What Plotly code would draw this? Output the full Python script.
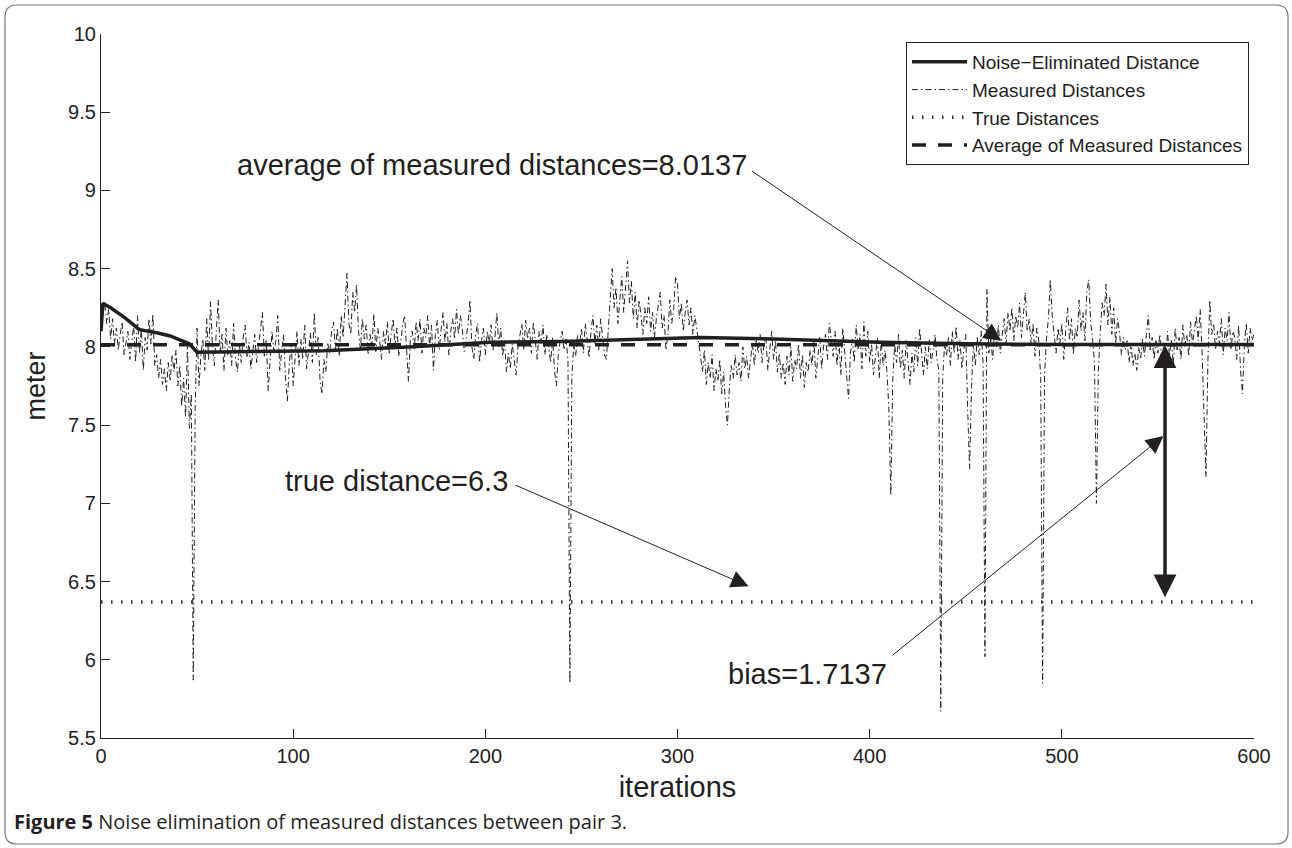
import plotly.graph_objects as go

# ---------------- data ----------------
measured_0_49 = [8.10, 8.22, 8.27, 8.15, 8.24, 8.05, 8.18, 8.02, 8.12, 7.98,
                 8.08, 8.16, 7.95, 8.04, 8.10, 7.92, 8.02, 8.14, 7.90, 8.20,
                 7.96, 8.12, 7.85, 8.06, 7.98, 8.18, 8.02, 8.21, 7.88, 7.95,
                 7.80, 7.92, 7.76, 7.86, 7.72, 7.90, 7.78, 7.95, 7.84, 7.98,
                 7.75, 7.88, 7.62, 7.80, 7.55, 8.02, 7.48, 7.70, 5.87, 7.60]
measured_50_99 = [8.12, 7.75, 7.95, 8.05, 7.85, 8.18, 7.92, 8.29, 8.00, 7.88,
                  8.10, 8.30, 7.96, 8.08, 7.85, 8.12, 7.95, 8.04, 7.88, 8.15,
                  7.92, 7.84, 8.02, 7.90, 8.06, 8.14, 7.93, 8.03, 7.86, 7.98,
                  8.08, 7.90, 8.00, 8.12, 8.22, 7.94, 8.05, 7.72, 7.88, 8.10,
                  7.96, 8.04, 8.20, 7.85, 7.97, 8.08, 7.80, 7.65, 7.90, 8.02]
measured_100_149 = [7.75, 7.95, 8.10, 7.88, 8.05, 7.92, 8.14, 7.86, 8.00, 8.09,
                    7.90, 8.22, 7.95, 8.06, 7.78, 7.70, 7.92, 7.84, 8.02, 7.96,
                    8.10, 8.16, 7.98, 8.12, 7.94, 8.20, 8.06, 8.30, 8.47, 8.15,
                    8.08, 8.35, 8.22, 8.40, 8.10, 7.98, 8.18, 8.05, 8.14, 7.95,
                    8.08, 8.00, 8.21, 7.97, 8.12, 8.04, 7.92, 8.10, 8.02, 8.16]
measured_150_199 = [7.96, 8.08, 8.18, 8.00, 8.12, 7.94, 8.06, 8.14, 8.20, 8.02,
                    7.78, 8.05, 8.10, 7.98, 8.16, 8.04, 8.18, 7.96, 8.12, 8.06,
                    8.20, 8.00, 8.14, 7.85, 8.08, 8.17, 7.98, 8.11, 8.22, 8.03,
                    8.15, 7.95, 8.10, 8.18, 8.05, 8.24, 8.08, 8.20, 8.12, 7.97,
                    8.06, 8.14, 8.30, 8.00, 7.92, 8.08, 8.15, 7.90, 8.04, 8.12]
measured_200_249 = [7.95, 8.10, 8.02, 8.14, 7.98, 8.06, 8.22, 8.00, 8.12, 7.94,
                    8.04, 7.84, 7.96, 7.86, 8.02, 7.90, 7.82, 8.00, 8.08, 8.15,
                    7.98, 8.17, 8.05, 8.12, 7.96, 8.16, 8.04, 7.92, 8.10, 8.02,
                    8.14, 7.95, 8.08, 8.00, 7.90, 8.06, 7.85, 7.75, 7.96, 8.04,
                    8.10, 7.98, 8.05, 7.92, 5.85, 7.80, 8.02, 7.94, 8.08, 8.00]
measured_250_299 = [8.12, 7.96, 8.15, 8.05, 7.93, 8.10, 8.20, 8.02, 8.14, 7.98,
                    8.18, 8.06, 7.95, 7.92, 8.12, 8.30, 8.50, 8.25, 8.38, 8.15,
                    8.30, 8.45, 8.22, 8.40, 8.55, 8.28, 8.42, 8.18, 8.35, 8.12,
                    8.30, 8.20, 8.08, 8.25, 8.15, 8.32, 8.10, 8.22, 8.06, 8.18,
                    8.26, 8.35, 8.12, 8.20, 7.98, 8.08, 8.30, 8.15, 8.24, 8.45]
measured_300_349 = [8.40, 8.18, 8.28, 8.10, 8.22, 8.30, 8.14, 8.25, 8.08, 8.20,
                    8.12, 8.02, 7.92, 7.84, 7.98, 7.76, 7.90, 7.80, 7.95, 7.72,
                    7.86, 7.78, 7.92, 7.70, 7.84, 7.62, 7.50, 7.74, 7.88, 7.80,
                    7.95, 7.82, 7.90, 7.78, 8.00, 7.86, 7.94, 7.80, 7.92, 8.02,
                    7.88, 8.05, 7.96, 8.08, 7.90, 8.02, 8.06, 7.85, 7.98, 8.10]
measured_350_399 = [7.92, 8.04, 7.84, 7.96, 7.80, 7.90, 7.76, 7.94, 7.82, 8.00,
                    7.78, 7.92, 7.86, 8.02, 7.80, 7.95, 7.74, 7.90, 7.84, 7.98,
                    7.88, 8.04, 7.80, 7.93, 8.06, 7.86, 8.00, 8.08, 7.92, 8.15,
                    8.02, 7.94, 8.10, 7.88, 8.04, 7.82, 8.12, 7.95, 7.84, 7.67,
                    7.96, 8.05, 7.90, 8.14, 7.98, 8.08, 7.86, 8.16, 7.94, 8.10]
measured_400_449 = [7.90, 8.02, 7.82, 7.96, 8.06, 7.80, 8.04, 7.88, 7.98, 7.84,
                    7.60, 7.05, 7.78, 8.02, 7.90, 8.08, 7.86, 7.98, 7.80, 8.04,
                    7.92, 7.76, 7.96, 7.84, 8.06, 7.88, 8.12, 7.94, 7.82, 8.00,
                    7.86, 8.05, 7.90, 7.98, 8.08, 7.92, 7.85, 5.67, 7.80, 8.02,
                    7.94, 8.06, 7.88, 8.10, 7.96, 8.13, 7.92, 8.04, 7.86, 7.98]
measured_450_499 = [8.08, 7.60, 7.22, 7.74, 8.02, 7.88, 8.06, 7.95, 8.10, 7.90,
                    6.02, 8.37, 7.96, 8.05, 7.92, 8.10, 8.00, 8.14, 7.96, 8.08,
                    8.18, 8.02, 8.22, 8.10, 8.25, 8.04, 8.20, 8.12, 8.28, 8.06,
                    8.22, 8.35, 8.10, 8.18, 8.02, 8.15, 7.94, 8.12, 8.04, 7.80,
                    5.85, 7.82, 8.05, 8.18, 8.43, 8.20, 8.08, 7.96, 8.12, 8.02]
measured_500_549 = [8.15, 7.92, 8.10, 8.25, 8.04, 8.18, 7.95, 8.12, 8.06, 8.30,
                    8.10, 8.22, 8.04, 8.35, 8.43, 8.16, 8.05, 7.90, 7.00, 7.85,
                    8.10, 8.28, 8.20, 8.40, 8.14, 8.32, 8.08, 8.25, 8.02, 8.18,
                    8.10, 7.95, 8.06, 7.98, 8.04, 7.90, 8.02, 7.88, 7.96, 7.85,
                    8.00, 7.92, 8.05, 7.94, 8.08, 8.20, 7.98, 8.06, 7.92, 8.04]
measured_550_600 = [7.96, 8.08, 7.90, 8.02, 7.86, 8.10, 7.94, 8.05, 7.88, 8.12,
                    7.98, 8.06, 7.92, 8.14, 8.00, 8.08, 7.94, 8.16, 8.02, 8.10,
                    8.20, 8.04, 8.24, 7.96, 7.60, 7.17, 7.90, 8.30, 8.08, 8.15,
                    7.98, 8.10, 8.02, 8.18, 7.95, 8.12, 8.04, 8.22, 7.98, 8.10,
                    8.06, 7.92, 8.14, 7.85, 7.70, 8.02, 8.15, 7.96, 8.12, 8.04,
                    8.08]

measured = (measured_0_49 + measured_50_99 + measured_100_149 + measured_150_199
            + measured_200_249 + measured_250_299 + measured_300_349 + measured_350_399
            + measured_400_449 + measured_450_499 + measured_500_549 + measured_550_600)
iterations = list(range(len(measured)))

filtered_iter = [0, 1, 2, 5, 12, 20, 29, 36, 46, 50, 80, 116, 160, 203, 240, 270, 312,
                 350, 405, 450, 500, 600]
filtered_val = [8.10, 8.28, 8.27, 8.25, 8.19, 8.11, 8.09, 8.07, 8.02, 7.966, 7.97, 7.975,
                8.0, 8.03, 8.035, 8.045, 8.06, 8.05, 8.03, 8.02, 8.015, 8.015]

true_iter = [0, 600]
true_val = [6.37, 6.37]
avg_iter = [0, 600]
avg_val = [8.0137, 8.0137]

x_ticks = [0, 100, 200, 300, 400, 500, 600]
y_ticks = [5.5, 6, 6.5, 7, 7.5, 8, 8.5, 9, 9.5, 10]

# ---------------- layout helpers ----------------
W, H = 1292, 848
L, R, T, B = 101, 38, 34, 110
PW, PH = W - L - R, H - T - B


def px(xp):
    return (xp - L) / PW


def py(yp):
    return (H - B - yp) / PH


INK = "#231f20"
FONT = "Liberation Sans, Arial, Helvetica, sans-serif"

fig = go.Figure()
fig.add_trace(go.Scatter(x=filtered_iter, y=filtered_val, mode="lines",
                         name="Noise\u2212Eliminated Distance",
                         line=dict(color=INK, width=3.5)))
fig.add_trace(go.Scatter(x=iterations, y=measured, mode="lines",
                         name="Measured Distances",
                         line=dict(color=INK, width=1, dash="6px,3px,1.5px,3px")))
fig.add_trace(go.Scatter(x=true_iter, y=true_val, mode="lines",
                         name="True Distances",
                         line=dict(color="#333333", width=3.5, dash="1.5px,8.5px")))
fig.add_trace(go.Scatter(x=avg_iter, y=avg_val, mode="lines",
                         name="Average of Measured Distances",
                         line=dict(color=INK, width=3.5, dash="14px,12px")))

ann_font = dict(family=FONT, size=29, color=INK)
annotations = [
    # text labels
    dict(x=337, y=9.16, xref="x", yref="y", text="average of measured distances=8.0137",
         showarrow=False, xanchor="right", yanchor="middle", font=ann_font),
    dict(x=213, y=7.14, xref="x", yref="y", text="true distance=6.3",
         showarrow=False, xanchor="right", yanchor="middle", font=ann_font),
    dict(x=410, y=5.91, xref="x", yref="y", text="bias=1.7137",
         showarrow=False, xanchor="right", yanchor="middle", font=ann_font),
    # thin arrows
    dict(x=468.5, y=8.04, ax=338, ay=9.13, xref="x", yref="y", axref="x", ayref="y",
         text="", showarrow=True, arrowhead=2, arrowsize=3.5, arrowwidth=1,
         arrowcolor=INK, standoff=0, startstandoff=0),
    dict(x=337, y=6.47, ax=215, ay=7.12, xref="x", yref="y", axref="x", ayref="y",
         text="", showarrow=True, arrowhead=2, arrowsize=3.5, arrowwidth=1,
         arrowcolor=INK, standoff=0, startstandoff=0),
    dict(x=552.9, y=7.43, ax=411, ay=6.02, xref="x", yref="y", axref="x", ayref="y",
         text="", showarrow=True, arrowhead=2, arrowsize=3.5, arrowwidth=1,
         arrowcolor=INK, standoff=0, startstandoff=0),
    # thick double arrow
    dict(x=553.7, y=6.40, ax=553.7, ay=8.02, xref="x", yref="y", axref="x", ayref="y",
         text="", showarrow=True, arrowhead=2, startarrowhead=2, arrowside="end+start",
         arrowsize=1.3, startarrowsize=1.3, arrowwidth=3.5, arrowcolor=INK,
         standoff=0, startstandoff=0),
    # caption
    dict(x=px(12), y=py(821), xref="paper", yref="paper",
         text="<b>Figure 5</b> Noise elimination of measured distances between pair 3.",
         showarrow=False, xanchor="left", yanchor="middle",
         font=dict(family="Open Sans", size=20, color=INK)),
]

# rounded frame around the whole figure
x0, x1, y0, y1, r = 5, 1288, 5, 844, 12
frame_path = (f"M {px(x0 + r)} {py(y0)} L {px(x1 - r)} {py(y0)} "
              f"Q {px(x1)} {py(y0)} {px(x1)} {py(y0 + r)} "
              f"L {px(x1)} {py(y1 - r)} Q {px(x1)} {py(y1)} {px(x1 - r)} {py(y1)} "
              f"L {px(x0 + r)} {py(y1)} Q {px(x0)} {py(y1)} {px(x0)} {py(y1 - r)} "
              f"L {px(x0)} {py(y0 + r)} Q {px(x0)} {py(y0)} {px(x0 + r)} {py(y0)} Z")

fig.update_layout(
    width=W, height=H,
    margin=dict(l=L, r=R, t=T, b=B),
    paper_bgcolor="white", plot_bgcolor="white",
    font=dict(family=FONT, color=INK, size=20),
    showlegend=True,
    legend=dict(x=px(1249), y=py(42), xanchor="right", yanchor="top",
                bgcolor="white", bordercolor=INK, borderwidth=1,
                font=dict(family=FONT, size=19, color=INK),
                itemwidth=55, tracegroupgap=0),
    annotations=annotations,
    shapes=[dict(type="path", path=frame_path, xref="paper", yref="paper",
                 line=dict(color="#777777", width=1.2), layer="below")],
    xaxis=dict(range=[0, 600], tickvals=x_ticks, ticktext=[str(v) for v in x_ticks],
               showgrid=False, zeroline=False, showline=True, linecolor=INK, linewidth=1.2,
               ticks="inside", ticklen=9, tickwidth=1.2, tickcolor=INK,
               tickfont=dict(family=FONT, size=20),
               title=dict(text="iterations", font=dict(family=FONT, size=29), standoff=10)),
    yaxis=dict(range=[5.5, 10], tickvals=y_ticks, ticktext=[f"{v:g}" for v in y_ticks],
               showgrid=False, zeroline=False, showline=True, linecolor=INK, linewidth=1.2,
               ticks="inside", ticklen=9, tickwidth=1.2, tickcolor=INK,
               tickfont=dict(family=FONT, size=20),
               title=dict(text="meter", font=dict(family=FONT, size=27), standoff=14)),
)

fig.write_html("out.html", config={"displayModeBar": False},
               post_script="document.body.style.margin='0px';")
